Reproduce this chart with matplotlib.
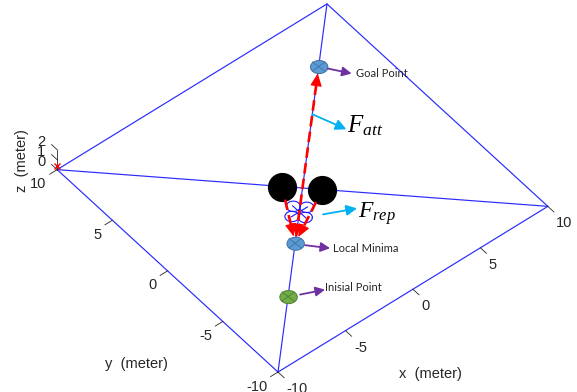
import numpy as np
import matplotlib
matplotlib.use('Agg')
import matplotlib.pyplot as plt
from matplotlib.text import Annotation
from matplotlib.lines import Line2D
from matplotlib.transforms import IdentityTransform
from mpl_toolkits.mplot3d import proj3d
from mpl_toolkits.mplot3d.art3d import Poly3DCollection

plt.rcParams['mathtext.fontset'] = 'custom'
plt.rcParams['mathtext.it'] = 'Liberation Serif:italic'
plt.rcParams['mathtext.rm'] = 'Liberation Serif'

# ---------------- data ----------------
ticks_xy = [-10, -5, 0, 5, 10]
ticks_z = [0, 1, 2]
xy_lim = (-10, 10)
z_lim = (0, 2)
goal = (6.6, 6.6, 0.0)
local_min = (-3.0, -3.0, 0.0)
initial = (-5.9, -5.9, 0.0)
quad = (-1.3, -1.3, 0.0)
obstacles_x = [-0.85, 0.75]
obstacles_y = [0.8, -0.85]
corner_mark = (-10, 10, 0.4)
point_labels = ['Goal Point', 'Local Minima', 'Inisial Point']
axis_labels = ['x  (meter)', 'y  (meter)', 'z  (meter)']

ELEV, AZIM = 48.6, -129.3
W, H = 577, 392
fig = plt.figure(figsize=(W / 100, H / 100), dpi=100)
side0 = 380
ax = fig.add_axes([(W - side0) / 2 / W, (H - side0) / 2 / H, side0 / W, side0 / H],
                  projection='3d', proj_type='ortho')
ax.set_xlim(xy_lim); ax.set_ylim(xy_lim); ax.set_zlim(z_lim)
ax.set_box_aspect((20, 20, 1.73))
ax.view_init(elev=ELEV, azim=AZIM)
ax.set_axis_off()
ax.computed_zorder = False

a0, a1 = xy_lim
blue = dict(color='#2a2aff', lw=0.85, zorder=1, clip_on=False)
ax.plot([a0, a1, a1, a0, a0], [a0, a0, a1, a1, a0], 0, **blue)
ax.plot([a0, a1], [a1, a0], 0, **blue)
ax.plot([a0, a1], [a0, a1], 0, **blue)

az = np.radians(AZIM)
u = np.array([-np.sin(az), np.cos(az), 0.0])
v = np.array([-np.cos(az), -np.sin(az), 0.0])


def circ(c, r, n=72):
    th = np.linspace(0, 2 * np.pi, n)
    return np.asarray(c)[None, :] + r * (np.cos(th)[:, None] * u + np.sin(th)[:, None] * v)


def disc(c, r, fc, ec):
    c = np.asarray(c, float)
    poly = Poly3DCollection([circ(c, r)], facecolor=fc, edgecolor=ec, linewidths=0.7, zorder=6)
    poly.set_clip_on(False)
    ax.add_collection3d(poly)
    for ang in (45, 135):
        t = np.radians(ang)
        d = r * (np.cos(t) * u + np.sin(t) * v)
        p1, p2 = c + d, c - d
        ax.plot([p1[0], p2[0]], [p1[1], p2[1]], [p1[2], p2[2]], color=ec, lw=0.6, zorder=6.1,
                clip_on=False)


tk = dict(color='#262626', lw=0.6, zorder=1, clip_on=False)
# z axis with ticks
ax.plot([a0, a0], [a1, a1], list(z_lim), **tk)
for zt in ticks_z:
    ax.plot([a0, a0], [a1, a1 + 0.5], [zt, zt], **tk)
# x / y ticks
for t in ticks_xy:
    ax.plot([t, t], [a0, a0 - 0.55], [0, 0], **tk)
    ax.plot([a0, a0 - 0.55], [t, t], [0, 0], **tk)
ax.plot([corner_mark[0]], [corner_mark[1]], [corner_mark[2]], 'x', color='red', ms=5, mew=1,
        zorder=2, clip_on=False)

# obstacles
ax.plot(obstacles_x, obstacles_y, 0, 'o', color='black', ms=20, linestyle='none', zorder=5,
        clip_on=False)

# quadrotor
qc = np.asarray(quad, float)
ex, ey = np.array([1.0, 0, 0]), np.array([0, 1.0, 0])
for d in (ex, -ex, ey, -ey):
    pts = circ(qc + 0.55 * d, 0.4)
    ax.plot(pts[:, 0], pts[:, 1], pts[:, 2], color='#1a1aff', lw=0.8, zorder=7, clip_on=False)
for d in (ex, ey):
    p1, p2 = qc + 0.6 * d, qc - 0.6 * d
    ax.plot([p1[0], p2[0]], [p1[1], p2[1]], [0, 0], color='#1a1aff', lw=0.8, zorder=7, clip_on=False)

# markers
disc(goal, 0.5, '#5B9BD5', '#41719C')
disc(local_min, 0.5, '#5B9BD5', '#41719C')
disc(initial, 0.5, '#70AD47', '#507E32')

# ---------- fit axes position so that the plane corners land where wanted ----------
def px(p):
    x2, y2, _ = proj3d.proj_transform(p[0], p[1], p[2], ax.get_proj())
    return np.asarray(ax.transData.transform((x2, y2)), float)

fig.canvas.draw()
corners = [(a0, a0, 0), (a1, a0, 0), (a0, a1, 0), (a1, a1, 0)]
targets = np.array([(278, H - 372), (548, H - 205), (57, H - 171), (327, H - 4)], float)
D = np.array([px(c) for c in corners])
bb = ax.get_position()
L = np.array([bb.x0 * W, bb.y0 * H])
side_old = bb.width * W
O = D - L
Om, Tm = O.mean(0), targets.mean(0)
s = ((O - Om) * (targets - Tm)).sum() / ((O - Om) ** 2).sum()
Ln = Tm - s * Om
side = side_old * s
ax.set_position([Ln[0] / W, Ln[1] / H, side / W, side / H])
fig.canvas.draw()


def ann(text, xy, off=(0, 0), **kw):
    a = Annotation(text, xy=(xy[0] + off[0], xy[1] + off[1]), xycoords='figure pixels', **kw)
    fig.add_artist(a)
    return a


def arrow(p0, p1, color, lw, ms=12, hl=0.6, hw=0.3, ls='-', style=None, z=10):
    st = style or f'-|>,head_length={hl},head_width={hw}'
    a = Annotation('', xy=tuple(p1), xytext=tuple(p0), xycoords='figure pixels',
                   textcoords='figure pixels',
                   arrowprops=dict(arrowstyle=st, color=color, lw=lw, shrinkA=0, shrinkB=0,
                                   mutation_scale=ms, linestyle=ls))
    a.set_zorder(z)
    fig.add_artist(a)


tick_font = dict(family='Liberation Sans', size=10.5, color='#262626')
for t in ticks_xy:
    ann(str(t), px((t, a0, 0)), (8.5, -17), ha='left', va='center', **tick_font)
    ann(str(t), px((a0, t, 0)), (-10.5, -14.5), ha='right', va='center', **tick_font)
for zt in ticks_z:
    ann(str(zt), px((a0, a1, zt)), (-12, 8), ha='right', va='center', **tick_font)

ann(axis_labels[0], px((0, a0, 0)), (18, -84.5), ha='center', va='center', **tick_font)
ann(axis_labels[1], px((a0, 0, 0)), (-31.5, -93.5), ha='center', va='center', **tick_font)
ann(axis_labels[2], px((a0, a1, 1)), (-35, -1), ha='center', va='center', rotation=90, **tick_font)

# red dashed force arrows
RED = '#ff0000'


def red_arrow(p_start, p_end, back=7.0, start_cut=0.0, shaft=True):
    S, E = px(p_start), px(p_end)
    d = (E - S) / np.linalg.norm(E - S)
    tip = E - d * back
    S = S + d * start_cut
    base = tip - d * 8
    if shaft:
        ln = Line2D([S[0], base[0]], [S[1], base[1]], transform=IdentityTransform(),
                    color=RED, lw=1.9, dashes=(4.0, 2.0), dash_capstyle='butt', zorder=9)
        fig.add_artist(ln)
    arrow(base, tip, RED, 0.8, ms=12, hl=0.65, hw=0.3, z=9)


lm = np.asarray(local_min, float)
gl = np.asarray(goal, float)
# attractive force (towards goal) and its head at the robot side
red_arrow(lm, gl, back=7.0, start_cut=7.0)
red_arrow(gl, lm, back=7.0, shaft=False)
for ox, oy in zip(obstacles_x, obstacles_y):
    red_arrow((ox, oy, 0), lm, back=7.0, start_cut=13.0)

# labels with purple arrows
PURPLE = '#7030A0'
lab_font = dict(family='Lato', size=8, color='#262626')
for p, lab, a_off, b_off, t_off in [
        (goal, point_labels[0], (9, -2), (33, -7), (37, -7)),
        (local_min, point_labels[1], (10, -2), (35, -5), (38, -5)),
        (initial, point_labels[2], (12, 2), (37, 7), (37, 9))]:
    c = px(p)
    arrow(c + a_off, c + b_off, PURPLE, 1.3, ms=8, hl=0.7, hw=0.35)
    ann(lab, c, t_off, ha='left', va='center', **lab_font)

# cyan arrows to force labels
CYAN = '#00B0F0'
fa = px(lm + 0.73 * (gl - lm))
arrow(fa, fa + (34, -15), CYAN, 1.3, ms=9, hl=0.7, hw=0.35)
ann(r'$F_{att}$', fa, (35, -18), ha='left', va='baseline', fontsize=18, color='black')
fr = px((obstacles_x[1], obstacles_y[1], 0))
arrow(fr + (1, -24), fr + (35, -18), CYAN, 1.3, ms=9, hl=0.7, hw=0.35)
ann(r'$F_{rep}$', fr, (36, -27), ha='left', va='baseline', fontsize=17, color='black')

fig.savefig('out.png', dpi=100)
